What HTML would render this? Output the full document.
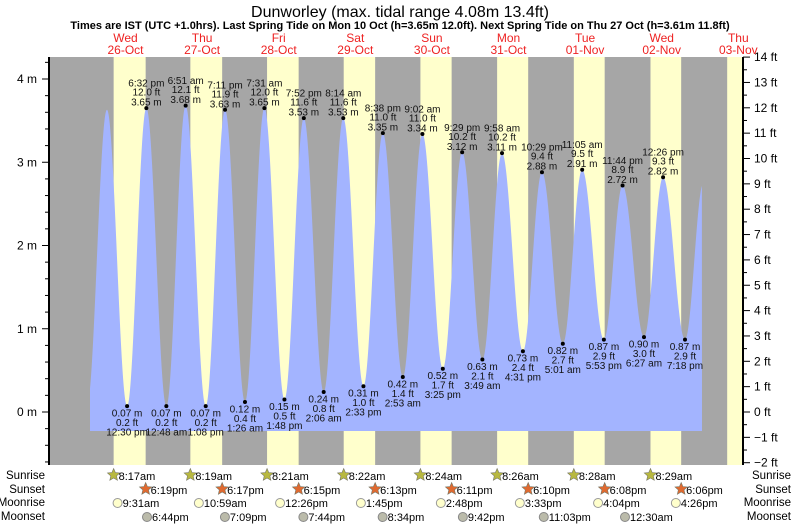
<!DOCTYPE html>
<html><head><meta charset="utf-8"><style>
body{margin:0;background:#fff;}
svg{display:block;font-family:"Liberation Sans",sans-serif;}
</style></head><body>
<svg id="chart" width="793" height="525" viewBox="0 0 793 525" xmlns="http://www.w3.org/2000/svg">
<text x="400" y="17" font-size="16" text-anchor="middle">Dunworley (max. tidal range 4.08m 13.4ft)</text>
<text x="400" y="29" font-size="11" font-weight="bold" text-anchor="middle">Times are IST (UTC +1.0hrs). Last Spring Tide on Mon 10 Oct (h=3.65m 12.0ft). Next Spring Tide on Thu 27 Oct (h=3.61m 11.8ft)</text>
<g id="plot"></g>
</svg>
<script>
// ---- data ----
const dayNames = ["Wed","Thu","Fri","Sat","Sun","Mon","Tue","Wed","Thu"];
const dayDates = ["26-Oct","27-Oct","28-Oct","29-Oct","30-Oct","31-Oct","01-Nov","02-Nov","03-Nov"];
const sunrise = ["8:17am","8:19am","8:21am","8:22am","8:24am","8:26am","8:28am","8:29am","8:31am"];
const sunset = ["6:19pm","6:17pm","6:15pm","6:13pm","6:11pm","6:10pm","6:08pm","6:06pm","6:04pm"];
const moonriseDay = [0,1,2,3,4,5,6,7];
const moonrise = ["9:31am","10:59am","12:26pm","1:45pm","2:48pm","3:33pm","4:04pm","4:26pm"];
const moonsetDay = [0,1,2,3,4,5,7];
const moonset = ["6:44pm","7:09pm","7:44pm","8:34pm","9:42pm","11:03pm","12:30am"];
const tideDay = [-1,0,0,0,1,1,1,1,2,2,2,2,3,3,3,3,4,4,4,4,5,5,5,5,6,6,6,6,7,7,7,8];
const tideTime = ["11:55pm","6:11am","12:30pm","6:32pm","12:48am","6:51am","1:08pm","7:11pm","1:26am","7:31am","1:48pm","7:52pm","2:06am","8:14am","2:33pm","8:38pm","2:53am","9:02am","3:25pm","9:29pm","3:49am","9:58am","4:31pm","10:29pm","5:01am","11:05am","5:53pm","11:44pm","6:27am","12:26pm","7:18pm","1:05am"];
const tideHeight = [0.08,3.63,0.07,3.65,0.07,3.68,0.07,3.63,0.12,3.65,0.15,3.53,0.24,3.53,0.31,3.35,0.42,3.34,0.52,3.12,0.63,3.11,0.73,2.88,0.82,2.91,0.87,2.72,0.90,2.82,0.87,2.75];
const tideLabeled = [0,0,1,1,1,1,1,1,1,1,1,1,1,1,1,1,1,1,1,1,1,1,1,1,1,1,1,1,1,1,1,0];
const yTicksM = [0,1,2,3,4];
const yTicksFt = [-2,-1,0,1,2,3,4,5,6,7,8,9,10,11,12,13,14];

// ---- scales ----
const X0=87.2, DW=76.6, L=49, R=743, T=57, B=465;
function parseT(s){const m=s.match(/(\d+):(\d+)\s*(am|pm)/);let h=+m[1]%12;if(m[3]=="pm")h+=12;return (h+ +m[2]/60)/24;}
function x(d){return X0+DW*d;}
function yM(h){return 412-83.25*h;}
function yFt(f){return 412-25.35*f;}
const NS="http://www.w3.org/2000/svg";
const g=document.getElementById('plot');
function el(tag,attrs,parent){const e=document.createElementNS(NS,tag);for(const k in attrs)e.setAttribute(k,attrs[k]);(parent||g).appendChild(e);return e;}

// background
const bg=el('rect',{x:L,y:T,width:R-L,height:B-T,fill:'#a6a6a6'});


for(let i=0;i<dayNames.length;i++){
  const x1=Math.max(L,x(i+parseT(sunrise[i]))), x2=Math.min(R,x(i+parseT(sunset[i])));
  const r=el('rect',{x:x1,y:T,width:x2-x1,height:B-T,fill:'#ffffcc'});
  
  
  const cx=x(i+0.5);
  const t1=el('text',{x:cx,y:42,'font-size':12,fill:'#ee2222','text-anchor':'middle'});t1.textContent=dayNames[i];
  
  
  const t2=el('text',{x:cx,y:54,'font-size':12,fill:'#ee2222','text-anchor':'middle'});t2.textContent=dayDates[i];
  
  
}
// tide curve
const ts=tideDay.map((d,i)=>d+parseT(tideTime[i]));
const tStart=(90-X0)/DW, tEnd=(702-X0)/DW;
function hAt(t){for(let i=0;i<ts.length-1;i++){if(t>=ts[i]&&t<=ts[i+1]){const f=(t-ts[i])/(ts[i+1]-ts[i]);return tideHeight[i]+(tideHeight[i+1]-tideHeight[i])*(1-Math.cos(Math.PI*f))/2;}}return tideHeight[tideHeight.length-1];}
let d=`M${x(tStart)},431`;
for(let t=tStart;t<=tEnd+1e-9;t+=0.002){d+=` L${x(t).toFixed(2)},${yM(hAt(t)).toFixed(2)}`;}
d+=` L${x(tEnd)},431 Z`;
const area=el('path',{d:d,fill:'#a3b4ff'});


// labels
for(let i=0;i<ts.length;i++){
  if(!tideLabeled[i])continue;
  const cx=x(ts[i]),cy=yM(tideHeight[i]);
  const isHigh=(i>0&&tideHeight[i]>tideHeight[i-1]);
  const dot=el('circle',{cx:cx,cy:cy,r:2,fill:'#000'});
  
  
  const ft=(tideHeight[i]*3.28084).toFixed(1)+' ft', m=tideHeight[i].toFixed(2)+' m';
  const tm=tideTime[i].replace(/(am|pm)/,' $1');
  const lines=isHigh?[[tm,-21.5],[ft,-12.5],[m,-2.5]]:[[m,10.5],[ft,20],[tm,29.5]];
  for(const [s,dy] of lines){const t=el('text',{x:cx,y:cy+dy,'font-size':10,'text-anchor':'middle',fill:'#111'});t.textContent=s;
    
    }
}
// axes
const al=el('line',{x1:L,y1:T,x2:L,y2:B,stroke:'#000','stroke-width':2});


for(let v=-0.6;v<=4.25;v+=0.2){const y=yM(v);const major=Math.abs(v-Math.round(v))<0.01;el('line',{x1:major?L-7:L-4,y1:y,x2:L,y2:y,stroke:'#000'});}
for(const v of yTicksM){const t=el('text',{x:L-12,y:yM(v)+4,'font-size':12,'text-anchor':'end'});t.textContent=v+' m';
  
  }
const ar=el('line',{x1:R,y1:T,x2:R,y2:B,stroke:'#000','stroke-width':2});


for(let v=-2;v<=14;v+=0.5){const y=yFt(v);const major=Number.isInteger(v);el('line',{x1:R,y1:y,x2:major?R+7:R+4,y2:y,stroke:'#000'});}
for(const v of yTicksFt){const t=el('text',{x:R+11,y:yFt(v)+4,'font-size':12});t.textContent=(v<0?'\u2212'+(-v):v)+' ft';
  
  }
// bottom rows
const rows=[["Sunrise",479],["Sunset",493],["Moonrise",506],["Moonset",520]];
for(const [n,y] of rows){
  const a=el('text',{x:45,y:y,'font-size':11.5,'text-anchor':'end'});a.textContent=n;
  
  
  const b=el('text',{x:791,y:y,'font-size':11.5,'text-anchor':'end'});b.textContent=n;
  
  
}
function star(cx,cy,fill){let p='';for(let k=0;k<10;k++){const r=k%2?3:6.5,a=-Math.PI/2+k*Math.PI/5;p+=(k?'L':'M')+(cx+r*Math.cos(a)).toFixed(2)+','+(cy+r*Math.sin(a)).toFixed(2);}return el('path',{d:p+'Z',fill:fill,stroke:'#776','stroke-width':0.6});}
for(let i=0;i<8;i++){
  let cx=x(i+parseT(sunrise[i]));
  const s1=star(cx,475,'#b8b840');
  
  
  let t=el('text',{x:cx+5,y:480,'font-size':11});t.textContent=sunrise[i];
  
  
  cx=x(i+parseT(sunset[i]));
  const s2=star(cx,489,'#e06a30');
  
  
  t=el('text',{x:cx+5,y:494,'font-size':11});t.textContent=sunset[i];
  
  
}
for(let i=0;i<moonrise.length;i++){
  const cx=x(moonriseDay[i]+parseT(moonrise[i]));
  const c=el('circle',{cx:cx,cy:503,r:4.5,fill:'#ffffcc',stroke:'#999'});
  
  
  const t=el('text',{x:cx+5,y:507,'font-size':11});t.textContent=moonrise[i];
  
  
}
for(let i=0;i<moonset.length;i++){
  const cx=x(moonsetDay[i]+parseT(moonset[i]));
  const c=el('circle',{cx:cx,cy:517,r:4.5,fill:'#bbbbaa',stroke:'#888'});
  
  
  const t=el('text',{x:cx+5,y:521,'font-size':11});t.textContent=moonset[i];
  
  
}
</script>
</body></html>
